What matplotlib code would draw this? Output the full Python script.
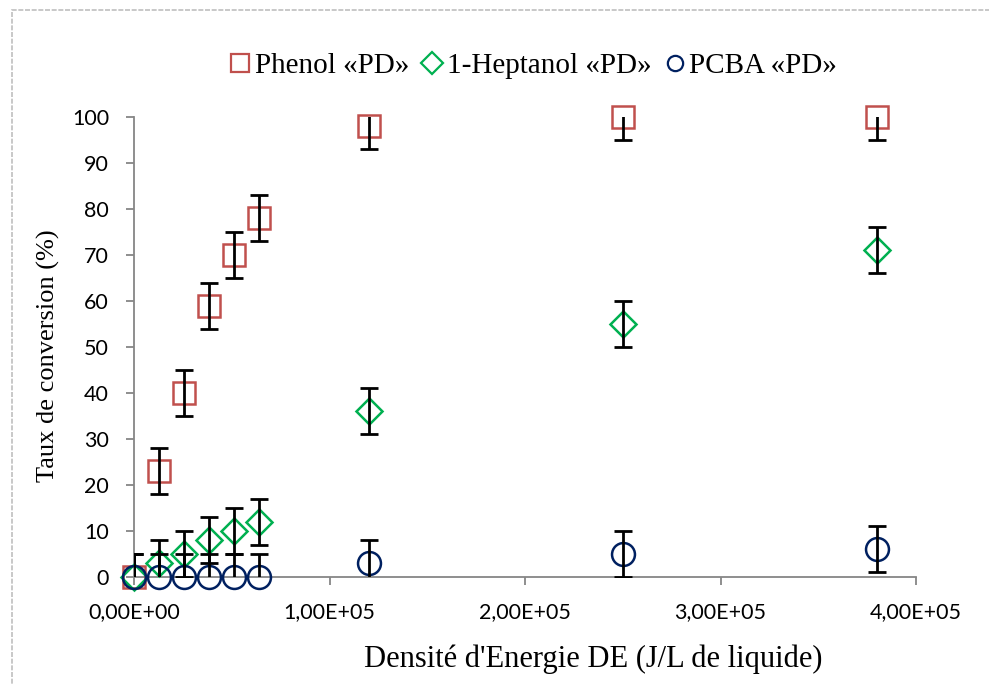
import matplotlib
matplotlib.use("Agg")
import matplotlib.pyplot as plt
from matplotlib.ticker import FuncFormatter, MultipleLocator
from matplotlib.patches import Rectangle
from matplotlib.lines import Line2D

# Data
energy = [0, 12800, 25500, 38300, 51000, 63800, 120000, 250000, 380000]
phenol = [0, 23, 40, 59, 70, 78, 98, 100, 100]
heptanol = [0, 3, 5, 8, 10, 12, 36, 55, 71]
pcba = [0, 0, 0, 0, 0, 0, 3, 5, 6]
err = [5, 5, 5, 5, 5, 5, 5, 5, 5]
labels = ["Phenol «PD»", "1-Heptanol «PD»", "PCBA «PD»"]
colors = ["#C0504D", "#00B050", "#002060"]
markers = ["s", "D", "o"]
msizes = [16, 13.5, 16.5]

fig = plt.figure(figsize=(9.89, 6.85), dpi=100)
ax = fig.add_axes([134/989, 1-577/685, (916-134)/989, (577-117)/685])

# dashed figure border
fig.patches.append(Rectangle((12/989, -0.05), 1.2, 1-10/685+0.05, transform=fig.transFigure,
                             fill=False, edgecolor="#bfbfbf", linestyle=(0, (3, 1)), linewidth=1.2))

for ys, c, m, ms in zip([phenol, heptanol, pcba], colors, markers, msizes):
    ax.plot(energy, ys, linestyle="none", marker=m, markersize=ms, markerfacecolor="none",
            markeredgecolor=c, markeredgewidth=1.8, clip_on=False, zorder=3)
for ys in [phenol, heptanol, pcba]:
    ax.errorbar(energy, ys, yerr=err, fmt="none", ecolor="black", elinewidth=2,
                capsize=6.5, capthick=2, zorder=4)

ax.set_xlim(0, 400000)
ax.set_ylim(0, 100)
ax.xaxis.set_major_locator(MultipleLocator(100000))
ax.yaxis.set_major_locator(MultipleLocator(10))

def sci_fmt(v, pos):
    s = "%.2E" % v
    return s.replace(".", ",")
ax.xaxis.set_major_formatter(FuncFormatter(sci_fmt))

for sp in ["top", "right"]:
    ax.spines[sp].set_visible(False)
for sp in ["left", "bottom"]:
    ax.spines[sp].set_color("#868686")
    ax.spines[sp].set_linewidth(1.3)
ax.tick_params(axis="both", direction="out", length=6, width=1.3, color="#868686",
               labelsize=15.5, labelcolor="black")
for t in ax.get_xticklabels() + ax.get_yticklabels():
    t.set_fontfamily("Lato")
ax.tick_params(axis="x", pad=12)
ax.tick_params(axis="y", pad=12)

ax.set_xlabel("Densité d'Energie DE (J/L de liquide)", fontfamily="Liberation Serif", fontsize=22)
ax.xaxis.set_label_coords((593-134)/782, (577-645)/460)
ax.set_ylabel("Taux de conversion (%)", fontfamily="Liberation Serif", fontsize=19)
ax.yaxis.set_label_coords((60-134)/782, (577-356)/460)

handles = [Line2D([], [], linestyle="none", marker=m, markersize=ms, markerfacecolor="none",
                  markeredgecolor=c, markeredgewidth=1.6) for c, m, ms in zip(colors, markers, [13, 11, 11])]
fig.legend(handles, labels, loc="center", bbox_to_anchor=(532/989, 1-66/685), ncol=3, frameon=False,
           prop={"family": "Liberation Serif", "size": 21}, handletextpad=0.05, columnspacing=0.35,
           handlelength=0.9)

fig.savefig("out.png", dpi=100)
